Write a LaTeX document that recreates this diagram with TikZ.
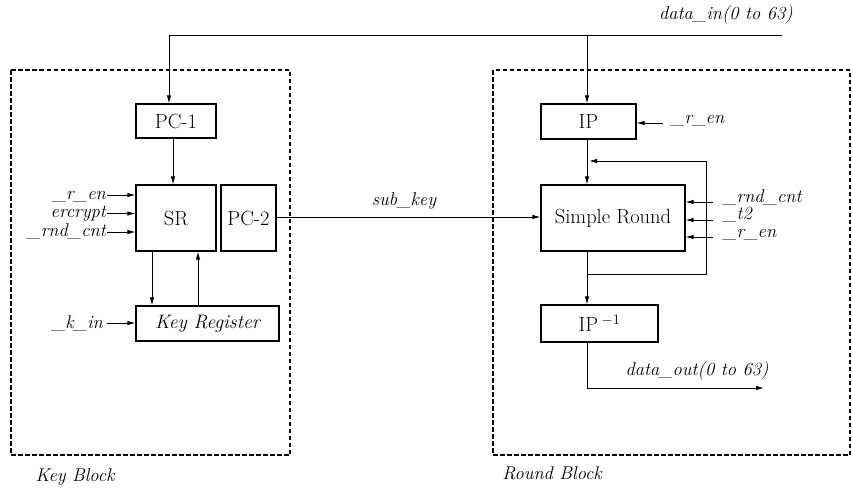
\documentclass[tikz,border=0pt]{standalone}
\usetikzlibrary{arrows.meta,calc}
\begin{document}
\begin{tikzpicture}[x=1pt,y=-1pt,
  blk/.style={draw,line width=1.1pt,rectangle,inner sep=0pt,font=\fontsize{20.5}{23}\selectfont},
  wire/.style={line width=0.9pt},
  arr/.style={wire,-{Latex[length=8pt,width=4.5pt]}},
  sig/.style={font=\fontsize{18.5}{20}\itshape,inner sep=0pt},
  tight/.style={text height=9pt,text depth=1pt},
  region/.style={draw,line width=2pt,dash pattern=on 4.5pt off 2.5pt}]
\useasboundingbox (0,0) rectangle (852,493);

% enclosing blocks
\draw[region] (11,70) rectangle (290,455);
\draw[region] (493,70) rectangle (850,455);
\node[sig] (kblk) at (75,477) {Key Block};
\node[sig] (rblk) at (552,473) {Round Block};

% key schedule
\node[blk,minimum width=80,minimum height=34] (pc1) at (176,121) {PC-1};
\node[blk,minimum width=80,minimum height=66] (sr) at (176,218) {SR};
\node[blk,minimum width=55,minimum height=66] (pc2) at (248.5,218) {PC-2};
\node[blk,minimum width=143,minimum height=35,font=\fontsize{19.5}{22}\itshape] (kr) at (207.5,323.5) {Key Register};

% round datapath
\node[blk,minimum width=95,minimum height=35] (ip) at (588.5,121.5) {IP};
\node[blk,minimum width=144,minimum height=66] (rnd) at (613,218) {Simple Round};
\node[blk,minimum width=117,minimum height=37] (ipi) at (599.5,323.5) {IP\,$^{-1}$};

% data input bus
\coordinate (din) at (782,35);
\coordinate (kc) at (169,35);
\node[sig] (dinl) at (726,15) {data\_in(0 to 63)};
\draw[wire] (din) -- (kc);
\draw[arr] (kc) -- (kc |- pc1.north);
\coordinate (ipin) at (587,35);
\draw[arr] (ipin) -- (ipin |- ip.north);

% key block wiring
\coordinate (pcx) at (173,0);
\draw[arr] (pcx |- pc1.south) -- (pcx |- sr.north);
\coordinate (dnx) at (152,0);
\coordinate (upx) at (198,0);
\draw[arr] (dnx |- sr.south) -- (dnx |- kr.north);
\draw[arr] (upx |- kr.north) -- (upx |- sr.south);

\node[sig,tight,anchor=east] (len) at (106,195) {\_r\_en};
\node[sig,tight,anchor=east] (lenc) at (106,213.5) {ercrypt};
\node[sig,tight,anchor=east] (lcnt) at (106,232) {\_rnd\_cnt};
\draw[arr] (len.east) ++(1,0) -- (len.east -| sr.west);
\draw[arr] (lenc.east) ++(1,0) -- (lenc.east -| sr.west);
\draw[arr] (lcnt.east) ++(1,0) -- (lcnt.east -| sr.west);
\node[sig,anchor=east] (kin) at (103,323) {\_k\_in};
\draw[arr] (kin.east) ++(4,0) -- (kin.east -| kr.west);

% sub key to round
\draw[arr] (pc2.east |- 0,217) -- (rnd.west |- 0,217);
\node[sig] (skl) at (404,201) {sub\_key};

% round block wiring
\coordinate (ren) at (663,123);
\node[sig,anchor=west] (renl) at (671,121) {\_r\_en};
\draw[arr] (ren) -- (ren -| ip.east);
\coordinate (vx) at (587,0);
\draw[arr] (vx |- ip.south) -- (vx |- rnd.north);
\coordinate (fb1) at (587,274);
\coordinate (fb2) at (706,274);
\coordinate (fb3) at (706,161);
\coordinate (fb4) at (589,161);
\draw[wire] (vx |- rnd.south) -- (fb1) -- (fb2) -- (fb3);
\draw[arr] (fb3) -- (fb4);
\draw[arr] (fb1) -- (vx |- ipi.north);

\coordinate (r1) at (713,202);
\coordinate (r2) at (713,220);
\coordinate (r3) at (713,237);
\draw[arr] (r1) -- (r1 -| rnd.east);
\draw[arr] (r2) -- (r2 -| rnd.east);
\draw[arr] (r3) -- (r3 -| rnd.east);
\node[sig,tight,anchor=west] (rcnt) at (723,198) {\_rnd\_cnt};
\node[sig,tight,anchor=west] (rt2) at (723,215) {\_t2};
\node[sig,tight,anchor=west] (rren) at (723,233) {\_r\_en};

% data output
\coordinate (do1) at (587,388);
\coordinate (do2) at (764,388);
\draw[wire] (vx |- ipi.south) -- (do1);
\draw[arr] (do1) -- (do2);
\node[sig] (doutl) at (697,371) {data\_out(0 to 63)};
\end{tikzpicture}
\end{document}
